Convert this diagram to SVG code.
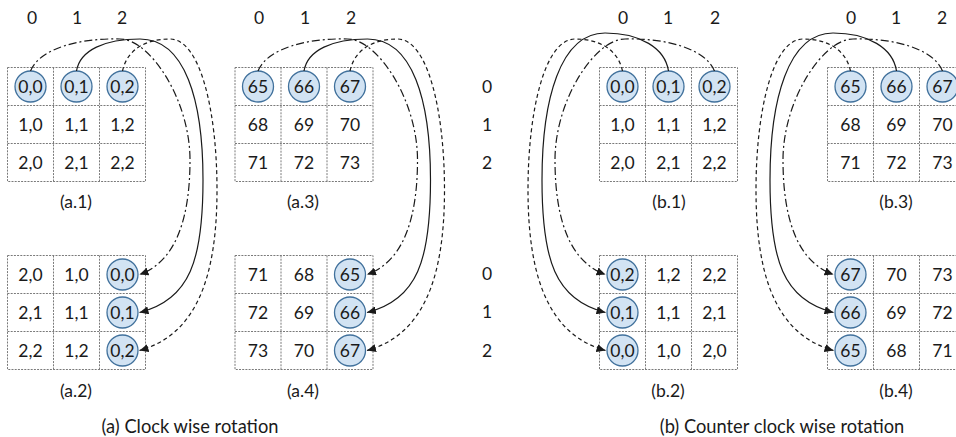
<svg xmlns="http://www.w3.org/2000/svg" width="956" height="437" viewBox="0 0 956 437">
<style>
text{font-family:Lato,"Open Sans","Liberation Sans",sans-serif;font-size:17.5px;fill:#1a1a1a;text-anchor:middle}
.cap{font-size:18.3px}
.g{fill:#fff;stroke:#7a7a7a;stroke-width:1;stroke-dasharray:2 1.2}
.ln{stroke:#7a7a7a;stroke-width:1;stroke-dasharray:2 1.2;fill:none}
.c{fill:#d2e3f3;stroke:#41719c;stroke-width:1.3}
.cn{fill:none;stroke:#1a1a1a;stroke-width:1.2}
.dd{stroke-dasharray:8 3 2 3}
.ds{stroke-dasharray:4 3}
</style>
<defs>
<marker id="ah" markerUnits="userSpaceOnUse" markerWidth="10" markerHeight="8" refX="9" refY="4" orient="auto"><path d="M0,0 L9,4 L0,8 z" fill="#1a1a1a"/></marker>
<g id="grid">
<rect class="g" x="0" y="0" width="138" height="114"/>
<path class="ln" d="M46,0V114M92,0V114M0,38H138M0,76H138"/>
</g>
</defs>

<g id="headers">
<text x="32" y="24">0</text><text x="77" y="24">1</text><text x="122" y="24">2</text>
<text x="259" y="24">0</text><text x="305" y="24">1</text><text x="351" y="24">2</text>
<text x="623" y="24">0</text><text x="668" y="24">1</text><text x="715" y="24">2</text>
<text x="851" y="24">0</text><text x="896" y="24">1</text><text x="942" y="24">2</text>
<text x="487" y="93">0</text><text x="487" y="131">1</text><text x="487" y="169">2</text>
<text x="487" y="280">0</text><text x="487" y="318">1</text><text x="487" y="357">2</text>
</g>

<g id="a1">
<use href="#grid" x="7.5" y="67.5"/>
<circle class="c" cx="30.5" cy="86.5" r="15.5"/><circle class="c" cx="76.5" cy="86.5" r="15.5"/><circle class="c" cx="122.5" cy="86.5" r="15.5"/>
<text x="30.5" y="93">0,0</text><text x="76.5" y="93">0,1</text><text x="122.5" y="93">0,2</text>
<text x="30.5" y="131">1,0</text><text x="76.5" y="131">1,1</text><text x="122.5" y="131">1,2</text>
<text x="30.5" y="169">2,0</text><text x="76.5" y="169">2,1</text><text x="122.5" y="169">2,2</text>
<text x="76" y="207.5">(a.1)</text>
</g>

<g id="a2">
<use href="#grid" x="7.5" y="255.5"/>
<circle class="c" cx="122.5" cy="274.5" r="15.5"/><circle class="c" cx="122.5" cy="312.5" r="15.5"/><circle class="c" cx="122.5" cy="350.5" r="15.5"/>
<text x="30.5" y="281">2,0</text><text x="76.5" y="281">1,0</text><text x="122.5" y="281">0,0</text>
<text x="30.5" y="319">2,1</text><text x="76.5" y="319">1,1</text><text x="122.5" y="319">0,1</text>
<text x="30.5" y="357">2,2</text><text x="76.5" y="357">1,2</text><text x="122.5" y="357">0,2</text>
<text x="76" y="396.5">(a.2)</text>
</g>

<g id="a3">
<use href="#grid" x="235" y="67.5"/>
<circle class="c" cx="258" cy="86.5" r="15.5"/><circle class="c" cx="304" cy="86.5" r="15.5"/><circle class="c" cx="350" cy="86.5" r="15.5"/>
<text x="258" y="93">65</text><text x="304" y="93">66</text><text x="350" y="93">67</text>
<text x="258" y="131">68</text><text x="304" y="131">69</text><text x="350" y="131">70</text>
<text x="258" y="169">71</text><text x="304" y="169">72</text><text x="350" y="169">73</text>
<text x="303" y="207.5">(a.3)</text>
</g>

<g id="a4">
<use href="#grid" x="235" y="255.5"/>
<circle class="c" cx="350" cy="274.5" r="15.5"/><circle class="c" cx="350" cy="312.5" r="15.5"/><circle class="c" cx="350" cy="350.5" r="15.5"/>
<text x="258" y="281">71</text><text x="304" y="281">68</text><text x="350" y="281">65</text>
<text x="258" y="319">72</text><text x="304" y="319">69</text><text x="350" y="319">66</text>
<text x="258" y="357">73</text><text x="304" y="357">70</text><text x="350" y="357">67</text>
<text x="303" y="396.5">(a.4)</text>
</g>

<g id="b1">
<use href="#grid" x="599.5" y="67.5"/>
<circle class="c" cx="622.5" cy="86.5" r="15.5"/><circle class="c" cx="668.5" cy="86.5" r="15.5"/><circle class="c" cx="714.5" cy="86.5" r="15.5"/>
<text x="622.5" y="93">0,0</text><text x="668.5" y="93">0,1</text><text x="714.5" y="93">0,2</text>
<text x="622.5" y="131">1,0</text><text x="668.5" y="131">1,1</text><text x="714.5" y="131">1,2</text>
<text x="622.5" y="169">2,0</text><text x="668.5" y="169">2,1</text><text x="714.5" y="169">2,2</text>
<text x="669" y="207.5">(b.1)</text>
</g>

<g id="b2">
<use href="#grid" x="599.5" y="255.5"/>
<circle class="c" cx="622.5" cy="274.5" r="15.5"/><circle class="c" cx="622.5" cy="312.5" r="15.5"/><circle class="c" cx="622.5" cy="350.5" r="15.5"/>
<text x="622.5" y="281">0,2</text><text x="668.5" y="281">1,2</text><text x="714.5" y="281">2,2</text>
<text x="622.5" y="319">0,1</text><text x="668.5" y="319">1,1</text><text x="714.5" y="319">2,1</text>
<text x="622.5" y="357">0,0</text><text x="668.5" y="357">1,0</text><text x="714.5" y="357">2,0</text>
<text x="668" y="396.5">(b.2)</text>
</g>

<g id="b3">
<use href="#grid" x="827.5" y="67.5"/>
<circle class="c" cx="850.5" cy="86.5" r="15.5"/><circle class="c" cx="896.5" cy="86.5" r="15.5"/><circle class="c" cx="942.5" cy="86.5" r="15.5"/>
<text x="850.5" y="93">65</text><text x="896.5" y="93">66</text><text x="942.5" y="93">67</text>
<text x="850.5" y="131">68</text><text x="896.5" y="131">69</text><text x="942.5" y="131">70</text>
<text x="850.5" y="169">71</text><text x="896.5" y="169">72</text><text x="942.5" y="169">73</text>
<text x="896" y="207.5">(b.3)</text>
</g>

<g id="b4">
<use href="#grid" x="827.5" y="255.5"/>
<circle class="c" cx="850.5" cy="274.5" r="15.5"/><circle class="c" cx="850.5" cy="312.5" r="15.5"/><circle class="c" cx="850.5" cy="350.5" r="15.5"/>
<text x="850.5" y="281">67</text><text x="896.5" y="281">70</text><text x="942.5" y="281">73</text>
<text x="850.5" y="319">66</text><text x="896.5" y="319">69</text><text x="942.5" y="319">72</text>
<text x="850.5" y="357">65</text><text x="896.5" y="357">68</text><text x="942.5" y="357">71</text>
<text x="896" y="396.5">(b.4)</text>
</g>

<g id="connectors">
<g id="conn-a">
<path class="cn dd" marker-end="url(#ah)" d="M30.5,71 C40,48 80,38 120,39 C150,39 190,100 190,160 C190,220 175,262 139.5,274.5"/>
<path class="cn" marker-end="url(#ah)" d="M76.5,71 C80,50 105,39 140,39 C185,39 203,100 203,180 C203,260 190,300 139.5,312.5"/>
<path class="cn ds" marker-end="url(#ah)" d="M122.5,71 C127,50 145,39 170,39 C200,39 217,110 217,190 C217,280 195,335 139.5,350.5"/>
</g>
<g id="conn-a3" transform="translate(227.5,0)">
<path class="cn dd" marker-end="url(#ah)" d="M30.5,71 C40,48 80,38 120,39 C150,39 190,100 190,160 C190,220 175,262 139.5,274.5"/>
<path class="cn" marker-end="url(#ah)" d="M76.5,71 C80,50 105,39 140,39 C185,39 203,100 203,180 C203,260 190,300 139.5,312.5"/>
<path class="cn ds" marker-end="url(#ah)" d="M122.5,71 C127,50 145,39 170,39 C200,39 217,110 217,190 C217,280 195,335 139.5,350.5"/>
</g>
<g id="conn-b">
<path class="cn dd" marker-end="url(#ah)" d="M714.5,71 C705,48 665,38 625,39 C595,39 555,100 555,160 C555,220 570,262 605.5,274.5"/>
<path class="cn" marker-end="url(#ah)" d="M668.5,71 C665,48 640,33 605,33 C560,33 542,100 542,180 C542,260 555,300 605.5,312.5"/>
<path class="cn ds" marker-end="url(#ah)" d="M622.5,71 C618,50 600,39 575,39 C545,39 528,110 528,190 C528,280 550,335 605.5,350.5"/>
</g>
<g id="conn-b3" transform="translate(228,0)">
<path class="cn dd" marker-end="url(#ah)" d="M714.5,71 C705,48 665,38 625,39 C595,39 555,100 555,160 C555,220 570,262 605.5,274.5"/>
<path class="cn" marker-end="url(#ah)" d="M668.5,71 C665,48 640,33 605,33 C560,33 542,100 542,180 C542,260 555,300 605.5,312.5"/>
<path class="cn ds" marker-end="url(#ah)" d="M622.5,71 C618,50 600,39 575,39 C545,39 528,110 528,190 C528,280 550,335 605.5,350.5"/>
</g>
</g>

<g id="captions">
<text class="cap" x="190" y="432.5">(a) Clock wise rotation</text>
<text class="cap" x="782" y="432.5">(b) Counter clock wise rotation</text>
</g>
</svg>
